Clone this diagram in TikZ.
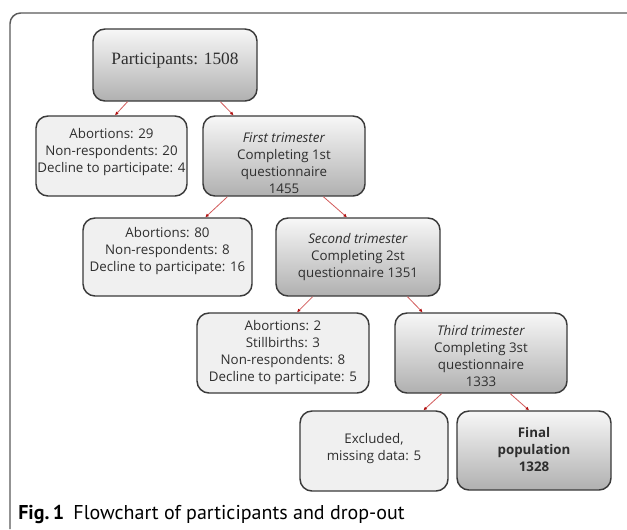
\documentclass[tikz,border=0pt]{standalone}
\usepackage{fontspec}
\setmainfont{Open Sans}
\newfontfamily\boxserif{Liberation Serif}
\newfontfamily\capfont{PT Sans}
\usetikzlibrary{calc,arrows.meta}
\definecolor{edge}{HTML}{3A3A3A}
\definecolor{txtgray}{HTML}{2E2E2E}
\definecolor{linkred}{HTML}{D25A5A}
\definecolor{tipred}{HTML}{B01010}
\definecolor{framegray}{HTML}{5A5A5A}
\tikzset{
  boxbase/.style={draw=edge, line width=1.1pt, rounded corners=9pt, inner sep=0pt},
  darkbox/.style={boxbase, top color=gray!6, bottom color=gray!62},
  lightbox/.style={boxbase, fill=gray!12},
  txt/.style={align=center, text=txtgray, inner sep=0pt, font=\fontsize{10pt}{12.75pt}\selectfont},
  conn/.style={draw=linkred, line width=0.6pt, -{Latex[length=2.6pt,width=2.6pt,color=tipred]}}
}
\newcommand\flowlink[4]{\draw[conn] ($(#1.south west)!#2!(#1.south east)$) -- ($(#3.north west)!#4!(#3.north east)$);}
\begin{document}
\begin{tikzpicture}[x=0.75pt,y=-0.75pt]
\useasboundingbox (0,0) rectangle (627,529);
\fill[white] (0,0) rectangle (627,529);
% outer frame
\coordinate (fbl) at (10,529);
\coordinate (ftr) at (627,13);
\draw[framegray, line width=1.1pt, rounded corners=8pt] (fbl) |- (ftr);
% boxes
\node[darkbox, minimum width=123pt, minimum height=54pt] (P) at (175,65) {};
\node[lightbox, minimum width=113.25pt, minimum height=60pt] (A1) at (111.5,156) {};
\node[darkbox, minimum width=121.5pt, minimum height=60pt] (T1) at (284,156) {};
\node[lightbox, minimum width=126.75pt, minimum height=58.5pt] (A2) at (167.5,257) {};
\node[darkbox, minimum width=123pt, minimum height=58.5pt] (T2) at (358,257) {};
\node[lightbox, minimum width=129pt, minimum height=60pt] (A3) at (283,353) {};
\node[darkbox, minimum width=129pt, minimum height=60pt] (T3) at (481,353) {};
\node[lightbox, minimum width=111pt, minimum height=60pt] (E) at (374,451) {};
\node[darkbox, minimum width=115.5pt, minimum height=59.25pt] (F) at (534,450.5) {};
% texts
\node[txt, font=\boxserif\fontsize{13pt}{15pt}\selectfont] (Pt) at ($(P)+(0,-4)$) {Participants: 1508};
\node[txt] (A1t) at ($(A1)+(0,-4)$) {Abortions: 29\\Non-respondents: 20\\Decline to participate: 4};
\node[txt] (T1t) at ($(T1)+(0,7.5)$) {\textit{First trimester}\\Completing 1st\\questionnaire\\1455};
\node[txt] (A2t) at ($(A2)+(0,-6)$) {Abortions: 80\\Non-respondents: 8\\Decline to participate: 16};
\node[txt] (T2t) at ($(T2)+(0,0)$) {\textit{Second trimester}\\Completing 2st\\questionnaire 1351};
\node[txt] (A3t) at ($(A3)+(0,0)$) {Abortions: 2\\Stillbirths: 3\\Non-respondents: 8\\Decline to participate: 5};
\node[txt] (T3t) at ($(T3)+(0,3)$) {\textit{Third trimester}\\Completing 3st\\questionnaire\\1333};
\node[txt] (Et) at ($(E)+(0,-2)$) {Excluded,\\missing data: 5};
\node[txt] (Ft) at ($(F)+(0,-1)$) {\textbf{Final}\\\textbf{population}\\\textbf{1328}};
% connectors
\flowlink{P}{0.213}{A1}{0.523}
\flowlink{P}{0.774}{T1}{0.191}
\flowlink{T1}{0.154}{A2}{0.722}
\flowlink{T1}{0.741}{T2}{0.433}
\flowlink{T2}{0.226}{A3}{0.581}
\flowlink{T2}{0.799}{T3}{0.163}
\flowlink{T3}{0.273}{E}{0.831}
\flowlink{T3}{0.669}{F}{0.468}
% caption
\node[anchor=base west, inner sep=0pt, text=black, font=\capfont\fontsize{15pt}{18pt}\selectfont] (cap) at (18,519) {\textbf{Fig.\,1}\hspace{7pt}Flowchart of participants and drop-out};
\end{tikzpicture}
\end{document}
